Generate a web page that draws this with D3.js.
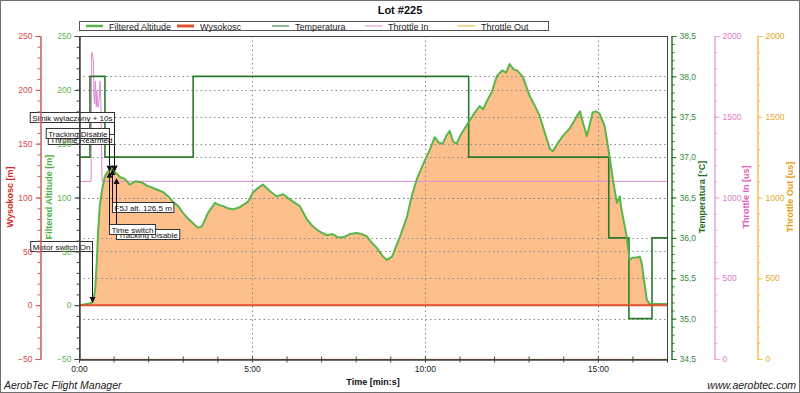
<!DOCTYPE html>
<html lang="en">
<head>
<meta charset="utf-8">
<title>Lot #225</title>
<script type="text/javascript" src="https://cdn.jsdelivr.net/npm/d3@7"></script>
<style type="text/css">
	body { margin: 0; background: #fff; }
	svg { display: block; font-family: "Liberation Sans", Arial, Helvetica, sans-serif; }
</style>
</head>
<body>
<script type="text/javascript">
	//Filtered altitude (time in s, altitude in m)
	var altTimes = [0, 19, 24, 28, 31, 33, 36, 40, 45, 50, 57, 62, 71, 80, 88, 98, 109, 118, 128, 137,
		146, 155, 163, 172, 180, 188, 196, 206, 213, 224, 236, 243, 250, 258, 267, 279, 293, 302, 311, 319,
		331, 343, 354, 366, 383, 395, 404, 413, 422, 430, 440, 449, 458, 470, 482, 491, 499, 508, 517, 526,
		534, 543, 557, 569, 577, 586, 597, 609, 617, 624, 631, 637, 643, 649, 655, 662, 669, 683, 695, 701,
		708, 716, 725, 734, 741, 747, 754, 760, 770, 782, 790, 799, 808, 817, 822, 830, 839, 851, 858, 864,
		869, 875, 881, 891, 897, 903, 912, 921, 926, 933, 938, 941, 950, 955, 960, 964, 973, 976, 981, 985,
		990, 1000, 1020];
	var altValues = [0, 1.5, 3, 14, 42, 67, 92, 107, 120, 124, 126.5, 124, 119, 117, 112, 115, 114, 111, 109, 107,
		105, 101, 96, 92, 86, 81, 77, 72, 73, 86, 95, 93, 92, 90, 89, 91, 96, 105, 109, 112,
		106, 101, 103, 98, 92, 80, 74, 70, 67, 65, 66, 63, 63, 66, 67, 66, 64, 58, 53, 46,
		42, 45, 64, 82, 101, 117, 131, 145, 156, 151, 150, 157, 162, 152, 150, 158, 164, 176, 185, 182,
		190, 198, 213, 218, 216, 224, 219, 218, 212, 194, 186, 176, 160, 145, 143, 150, 157, 164, 170, 176,
		180, 168, 157, 179, 180, 178, 166, 136, 117, 95, 101, 89, 64, 42, 44, 44, 45, 39, 20, 5,
		1, 1, 1];

	//Wysokosc
	var wysTimes = [0, 1020];
	var wysValues = [0, 0];

	//Temperatura (step line)
	var tempTimes = [0, 19, 45, 198, 676, 919, 954, 994, 1020];
	var tempValues = [37.0, 38.0, 37.0, 38.0, 37.0, 36.0, 35.0, 36.0, 36.0];

	//Throttle In
	var thrInTimes = [0, 21, 22, 23.5, 25, 26, 27, 28.5, 30, 31, 33, 35, 36.5, 38, 40, 1020];
	var thrInValues = [1100, 1100, 1900, 1880, 1850, 1620, 1580, 1720, 1560, 1660, 1560, 1600, 1720, 1600, 1100, 1100];

	//Throttle Out
	var thrOutTimes = [0, 1020];
	var thrOutValues = [0, 0];

	//Events
	var annLabels = ["Motor switch On", "Silnik wylaczony + 10s", "Throttle Rearmed", "Tracking Disable",
		"F5J alt. 126,5 m", "Tracking Disable", "Time switch"];
	var annTimes = [22, 61, 61, 52, 57, 64, 52];
	var annAlts = [2, 124, 124, 124, 126.5, 118, 124];

	//Ticks
	var altTicks = [-50, 0, 50, 100, 150, 200, 250];
	var tempTicks = [34.5, 35.0, 35.5, 36.0, 36.5, 37.0, 37.5, 38.0, 38.5];
	var thrTicks = [0, 500, 1000, 1500, 2000];
	var timeLabelTicks = [0, 300, 600, 900];

	var legendNames = ["Filtered Altitude", "Wysokosc", "Temperatura", "Throttle In", "Throttle Out"];

	//Layout
	var w = 800, h = 393;
	var pl = 79, pr = 667, pt = 36, pb = 359;
	var annBoxY = [241, 112, 134, 128, 202, 229, 224];
	var annSide = ["L", "L", "L", "L", "R", "R", "R"];

	var cFill = "#fdc08c", cAlt = "#5ab54a", cWys = "#e0502e", cTemp = "#2b7a2b",
		cThrIn = "#dc8ad2", cThrOut = "#e8b22a", cRed = "#d64848";

	var svg = d3.select("body").append("svg").attr("width", w).attr("height", h);

	//Scales
	var x = d3.scaleLinear().domain([0, 1020]).range([pl, pr]);
	var yAlt = d3.scaleLinear().domain([-50, 250]).range([pb, pt]);
	var yTemp = d3.scaleLinear().domain([34.5, 38.5]).range([pb, pt]);
	var yThr = d3.scaleLinear().domain([0, 2000]).range([pb, pt]);

	function pairs(ts, vs) {
		return ts.map(function(t, i) { return { t: t, v: vs[i] }; });
	}

	//Outer frame
	svg.append("rect").attr("x", 0.5).attr("y", 0.5).attr("width", w - 1).attr("height", h - 1)
		.attr("fill", "#fff").attr("stroke", "#6f6f6f");

	//Clip to plot interior
	svg.append("clipPath").attr("id", "plotClip").append("rect")
		.attr("x", pl).attr("y", pt).attr("width", pr - pl).attr("height", pb - pt - 0.5);

	//Title
	svg.append("text").attr("x", 400).attr("y", 14).attr("text-anchor", "middle")
		.attr("font-size", 11).attr("font-weight", "bold").attr("fill", "#111").text("Lot #225");

	//Legend
	var lg = svg.append("g");
	lg.append("rect").attr("x", 79.5).attr("y", 21.5).attr("width", 469).attr("height", 9)
		.attr("fill", "#fff").attr("stroke", "#555");
	var legColors = [cAlt, cWys, cTemp, cThrIn, cThrOut];
	var legWidths = [2.5, 3, 1, 1, 1];
	var legX = [86, 177, 272, 365, 458];
	legendNames.forEach(function(n, i) {
		lg.append("line").attr("x1", legX[i]).attr("x2", legX[i] + 17).attr("y1", 26).attr("y2", 26)
			.attr("stroke", legColors[i]).attr("stroke-width", legWidths[i]);
		lg.append("text").attr("x", legX[i] + 23).attr("y", 29.5).attr("font-size", 9)
			.attr("fill", "#222").text(n);
	});

	//Altitude fill
	var alt = pairs(altTimes, altValues);
	svg.append("path").datum(alt)
		.attr("d", d3.area().x(function(d) { return x(d.t); }).y0(yAlt(0)).y1(function(d) { return yAlt(d.v); }))
		.attr("fill", cFill);

	//Dotted grid
	var grid = svg.append("g").attr("stroke", "#8a8a8a").attr("stroke-dasharray", "1.5,3").attr("stroke-width", 1);
	[50, 100, 150, 200].forEach(function(v) {
		grid.append("line").attr("x1", pl).attr("x2", pr).attr("y1", Math.round(yAlt(v)) + 0.5).attr("y2", Math.round(yAlt(v)) + 0.5);
	});
	tempTicks.slice(1, -1).forEach(function(v) {
		grid.append("line").attr("x1", pl).attr("x2", pr).attr("y1", Math.round(yTemp(v)) + 0.5).attr("y2", Math.round(yTemp(v)) + 0.5);
	});
	timeLabelTicks.slice(1).forEach(function(v) {
		grid.append("line").attr("y1", pt).attr("y2", pb).attr("x1", Math.round(x(v)) + 0.5).attr("x2", Math.round(x(v)) + 0.5);
	});

	//Series lines
	function linePath(yScale, curve) {
		return d3.line().x(function(d) { return x(d.t); }).y(function(d) { return yScale(d.v); }).curve(curve || d3.curveLinear);
	}
	svg.append("path").datum(pairs(thrOutTimes, thrOutValues)).attr("d", linePath(yThr))
		.attr("clip-path", "url(#plotClip)")
		.attr("fill", "none").attr("stroke", cThrOut).attr("stroke-width", 1);
	svg.append("path").datum(pairs(thrInTimes, thrInValues)).attr("d", linePath(yThr))
		.attr("fill", "none").attr("stroke", cThrIn).attr("stroke-width", 1);
	svg.append("path").datum(pairs(tempTimes, tempValues)).attr("d", linePath(yTemp, d3.curveStepAfter))
		.attr("fill", "none").attr("stroke", cTemp).attr("stroke-width", 1.6);
	svg.append("path").datum(alt).attr("d", linePath(yAlt))
		.attr("fill", "none").attr("stroke", cAlt).attr("stroke-width", 2).attr("stroke-linejoin", "round");
	svg.append("path").datum(pairs(wysTimes, wysValues)).attr("d", linePath(yAlt))
		.attr("fill", "none").attr("stroke", cWys).attr("stroke-width", 2);

	//Annotations
	annLabels.forEach(function(lab, i) {
		var px = Math.round(x(annTimes[i])) + 0.5, py = yAlt(annAlts[i]);
		var g = svg.append("g");
		var by = annBoxY[i] + 0.5, bh = 10;
		var rect = g.append("rect");
		var txt = g.append("text").attr("font-size", 8).attr("fill", "#111").text(lab);
		var bw = txt.node().getComputedTextLength() + 4;
		var bx = annSide[i] === "L" ? px - bw : px;
		rect.attr("x", bx).attr("y", by).attr("width", bw).attr("height", bh)
			.attr("fill", "#fff").attr("stroke", "#333");
		txt.attr("x", bx + 2).attr("y", by + 8);
		var down = by < py;
		var y0 = down ? by + bh : by;
		var hs = down ? -6 : 6;
		g.append("line").attr("x1", px).attr("x2", px).attr("y1", y0).attr("y2", py + hs)
			.attr("stroke", "#111").attr("stroke-width", 1);
		g.append("path").attr("d", "M" + px + "," + py + "L" + (px - 3) + "," + (py + hs) + "L" + (px + 3) + "," + (py + hs) + "Z")
			.attr("fill", "#111");
	});

	//Plot frame
	svg.append("rect").attr("x", pl + 0.5).attr("y", pt + 0.5).attr("width", pr - pl).attr("height", pb - pt)
		.attr("fill", "none").attr("stroke", "#444");

	//Axis helper
	function styleAxis(g, lineColor, labelColor, fs) {
		g.select(".domain").attr("stroke", lineColor);
		g.selectAll(".tick line").attr("stroke", lineColor);
		g.selectAll(".tick text").attr("fill", labelColor).attr("font-size", fs || 8.5)
			.attr("font-family", "Liberation Sans, Arial, sans-serif");
	}
	function addAxis(axisFn, scale, tx, ticks, minorStep, fmt, lineColor, labelColor) {
		var dom = scale.domain();
		var minor = d3.range(dom[0], dom[1] + minorStep / 2, minorStep);
		var gm = svg.append("g").attr("transform", "translate(" + tx + ",0)")
			.call(axisFn(scale).tickValues(minor).tickSize(3).tickFormat(""));
		styleAxis(gm, lineColor, labelColor);
		var g = svg.append("g").attr("transform", "translate(" + tx + ",0)")
			.call(axisFn(scale).tickValues(ticks).tickSize(5).tickPadding(3).tickFormat(fmt));
		styleAxis(g, lineColor, labelColor);
		return g;
	}

	var comma = function(d) { return d3.format(".1f")(d).replace(".", ","); };
	addAxis(d3.axisLeft, yAlt, 40.5, altTicks, 10, d3.format("d"), "#c85a5a", cRed);
	addAxis(d3.axisLeft, yAlt, pl + 0.5, altTicks, 10, d3.format("d"), "#444", "#62b552");
	addAxis(d3.axisRight, yTemp, 671.5, tempTicks, 0.1, comma, cTemp, "#3a8a3a");
	addAxis(d3.axisRight, yThr, 714.5, thrTicks, 100, d3.format("d"), "#e6a6dc", "#e07cc8");
	addAxis(d3.axisRight, yThr, 757.5, thrTicks, 100, d3.format("d"), "#eec35a", "#e6a82a");

	//Time axis
	var mins = d3.range(0, 1021, 60);
	var gx = svg.append("g").attr("transform", "translate(0," + (pb + 0.5) + ")")
		.call(d3.axisBottom(x).tickValues(mins).tickSize(3)
			.tickFormat(function(d) { return timeLabelTicks.indexOf(d) >= 0 ? (d / 60) + ":00" : ""; }));
	styleAxis(gx, "#444", "#222", 8.5);
	var gx2 = svg.append("g").attr("transform", "translate(0," + (pb + 0.5) + ")")
		.call(d3.axisTop(x).tickValues(mins).tickSize(3).tickFormat(""));
	styleAxis(gx2, "#444", "#222");

	//Axis titles
	function vTitle(xp, txt, color) {
		svg.append("text").attr("transform", "translate(" + xp + ",197) rotate(-90)")
			.attr("text-anchor", "middle").attr("font-size", 9).attr("font-weight", "bold")
			.attr("fill", color).text(txt);
	}
	vTitle(13, "Wysokosc [m]", "#d42a2a");
	vTitle(52, "Filtered Altitude [m]", "#4fae3f");
	vTitle(705, "Temperatura [°C]", "#1f6f1f");
	vTitle(749, "Throttle In [us]", "#e060b8");
	vTitle(793, "Throttle Out [us]", "#e0a010");

	svg.append("text").attr("x", 373).attr("y", 385).attr("text-anchor", "middle")
		.attr("font-size", 9).attr("font-weight", "bold").attr("fill", "#111").text("Time [min:s]");

	//Footer
	svg.append("text").attr("x", 4).attr("y", 389).attr("font-size", 10.5).attr("font-style", "italic")
		.attr("fill", "#222").text("AerobTec Flight Manager");
	svg.append("text").attr("x", 796).attr("y", 389).attr("text-anchor", "end").attr("font-size", 10.5)
		.attr("font-style", "italic").attr("fill", "#222").text("www.aerobtec.com");
</script>
</body>
</html>
